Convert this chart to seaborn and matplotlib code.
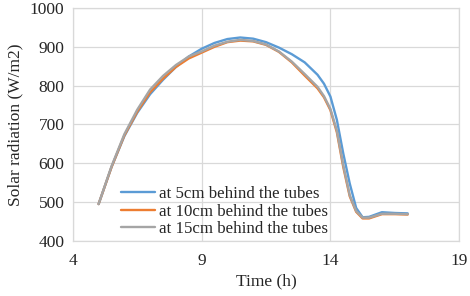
import numpy as np
import pandas as pd
import matplotlib
matplotlib.use("Agg")
import matplotlib.pyplot as plt
import seaborn as sns

# valores
time_h = [5, 5.5, 6, 6.5, 7, 7.5, 8, 8.5, 9, 9.5, 10, 10.5, 11, 11.5, 12, 12.5,
          13, 13.5, 13.75, 14, 14.25, 14.5, 14.75, 15, 15.25, 15.5, 16, 16.5, 17]
rad_5cm = [495, 590, 670, 730, 778, 815, 848, 875, 895, 910, 920, 924, 921, 912, 898, 881,
           860, 828, 805, 772, 712, 625, 548, 485, 461, 462, 474, 472, 471]
rad_10cm = [495, 590, 672, 733, 783, 818, 848, 870, 885, 900, 912, 916, 914, 905, 887, 860,
            826, 793, 770, 737, 680, 590, 515, 475, 458, 458, 469, 469, 468]
rad_15cm = [495, 592, 675, 738, 790, 825, 853, 875, 888, 903, 913, 918, 915, 906, 888, 862,
            830, 797, 773, 740, 684, 595, 518, 477, 460, 460, 470, 470, 469]
labels = ["at 5cm behind the tubes", "at 10cm behind the tubes", "at 15cm behind the tubes"]
colors = ["#5B9BD5", "#ED7D31", "#A5A5A5"]

df = pd.concat([
    pd.DataFrame({"Time": time_h, "Rad": vals, "Serie": lab})
    for vals, lab in zip([rad_5cm, rad_10cm, rad_15cm], labels)
], ignore_index=True)

sns.set_style("whitegrid")
plt.rcParams['font.family'] = ['Liberation Serif', 'DejaVu Serif']

fig = plt.figure(figsize=(4.7, 2.96), dpi=100)
ax = fig.add_axes([0.155, 0.186, 0.822, 0.787])

sns.lineplot(data=df, x="Time", y="Rad", hue="Serie", palette=colors,
             linewidth=1.7, sort=False, ax=ax)

ax.set_xlim(4, 19)
ax.set_ylim(400, 1000)
ax.set_xticks([4, 9, 14, 19])
ax.set_yticks(range(400, 1001, 100))
ax.tick_params(axis="x", labelsize=12.5, length=0, pad=9)
ax.tick_params(axis="y", labelsize=12.5, length=0, pad=6)
ax.grid(True, color="#D9D9D9", linewidth=0.9)
for s in ax.spines.values():
    s.set_color("#D9D9D9")
    s.set_linewidth(0.9)

ax.set_xlabel("Time (h)", fontsize=12.5, labelpad=3)
ax.set_ylabel("Solar radiation (W/m2)", fontsize=12.5, labelpad=5)

ax.legend(loc="lower left", bbox_to_anchor=(0.085, -0.05), frameon=False,
          fontsize=12.2, handlelength=2.0, handletextpad=0.25, labelspacing=0.1)

fig.savefig("out.png", dpi=100)
